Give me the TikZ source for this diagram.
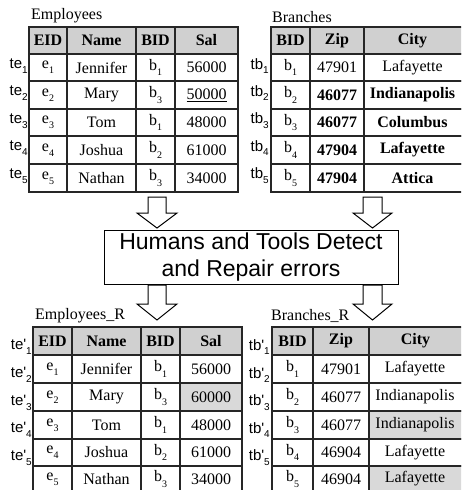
\documentclass[tikz,border=0pt]{standalone}
\usepackage{fontspec}
\setmainfont{Liberation Serif}
\newfontfamily\arialf{Liberation Sans}
\usetikzlibrary{calc}
\definecolor{hdrgray}{HTML}{D0D0D0}
\definecolor{shade}{HTML}{D9D9D9}
\newcommand\sbs[1]{\raisebox{-0.32em}{\fontsize{10}{10}\selectfont #1}}
\newcommand\mycell[7]{%
  \pgfmathsetmacro\cw{#4-#2}\pgfmathsetmacro\ch{#5-#3}%
  \node[cellbox,#6,minimum width=\cw pt,minimum height=\ch pt] (#1) at ({(#2+#4)/2},{(#3+#5)/2}) {#7};}
\tikzset{
  cellbox/.style={draw=black!85,line width=1.1pt,inner sep=0pt,font=\fontsize{16}{18}\selectfont},
  hdr/.style={fill=hdrgray,font=\fontsize{16}{18}\selectfont\bfseries},
  shd/.style={fill=shade},
  bld/.style={font=\fontsize{16}{18}\selectfont\bfseries},
  rowlab/.style={anchor=east,inner sep=0pt,font=\arialf\fontsize{15}{15}\selectfont},
  ttl/.style={anchor=south west,inner sep=0pt,font=\fontsize{16}{18}\selectfont},
  blockarrow/.style={draw=black,line width=1pt,fill=white,line join=miter}
}
\begin{document}
\begin{tikzpicture}[x=1pt,y=-1pt]
\clip (0,0) rectangle (461,490);
\fill[white] (0,0) rectangle (461,490);

% ---------- Employees ----------
\node[ttl] (tE) at (31,23) {Employees};
\mycell{E00}{29}{27}{67}{54}{hdr}{EID}
\mycell{E01}{67}{27}{136}{54}{hdr}{Name}
\mycell{E02}{136}{27}{175}{54}{hdr}{BID}
\mycell{E03}{175}{27}{238}{54}{hdr}{Sal}
\mycell{E10}{29}{54}{67}{81}{}{e\sbs{1}}
\mycell{E11}{67}{54}{136}{81}{}{Jennifer}
\mycell{E12}{136}{54}{175}{81}{}{b\sbs{1}}
\mycell{E13}{175}{54}{238}{81}{}{56000}
\mycell{E20}{29}{81}{67}{109}{}{e\sbs{2}}
\mycell{E21}{67}{81}{136}{109}{}{Mary}
\mycell{E22}{136}{81}{175}{109}{}{b\sbs{3}}
\mycell{E23}{175}{81}{238}{109}{}{\underline{50000}}
\mycell{E30}{29}{109}{67}{136}{}{e\sbs{3}}
\mycell{E31}{67}{109}{136}{136}{}{Tom}
\mycell{E32}{136}{109}{175}{136}{}{b\sbs{1}}
\mycell{E33}{175}{109}{238}{136}{}{48000}
\mycell{E40}{29}{136}{67}{164}{}{e\sbs{4}}
\mycell{E41}{67}{136}{136}{164}{}{Joshua}
\mycell{E42}{136}{136}{175}{164}{}{b\sbs{2}}
\mycell{E43}{175}{136}{238}{164}{}{61000}
\mycell{E50}{29}{164}{67}{192}{}{e\sbs{5}}
\mycell{E51}{67}{164}{136}{192}{}{Nathan}
\mycell{E52}{136}{164}{175}{192}{}{b\sbs{3}}
\mycell{E53}{175}{164}{238}{192}{}{34000}
\node[rowlab] (te1) at (28,66) {te\sbs{1}};
\node[rowlab] (te2) at (28,93) {te\sbs{2}};
\node[rowlab] (te3) at (28,121) {te\sbs{3}};
\node[rowlab] (te4) at (28,148) {te\sbs{4}};
\node[rowlab] (te5) at (28,176) {te\sbs{5}};

% ---------- Branches ----------
\node[ttl] (tB) at (272,23) {Branches};
\mycell{B00}{271}{27}{310}{54}{hdr}{BID}
\mycell{B01}{310}{27}{364}{54}{hdr}{Zip}
\mycell{B02}{364}{27}{470}{54}{hdr}{\hspace*{-9pt}City}
\mycell{B10}{271}{54}{310}{81}{}{b\sbs{1}}
\mycell{B11}{310}{54}{364}{81}{}{47901}
\mycell{B12}{364}{54}{470}{81}{}{\hspace*{-9pt}Lafayette}
\mycell{B20}{271}{81}{310}{109}{}{b\sbs{2}}
\mycell{B21}{310}{81}{364}{109}{bld}{46077}
\mycell{B22}{364}{81}{470}{109}{bld}{\hspace*{-9pt}Indianapolis}
\mycell{B30}{271}{109}{310}{136}{}{b\sbs{3}}
\mycell{B31}{310}{109}{364}{136}{bld}{46077}
\mycell{B32}{364}{109}{470}{136}{bld}{\hspace*{-9pt}Columbus}
\mycell{B40}{271}{136}{310}{164}{}{b\sbs{4}}
\mycell{B41}{310}{136}{364}{164}{bld}{47904}
\mycell{B42}{364}{136}{470}{164}{bld}{\hspace*{-9pt}Lafayette}
\mycell{B50}{271}{164}{310}{192}{}{b\sbs{5}}
\mycell{B51}{310}{164}{364}{192}{bld}{47904}
\mycell{B52}{364}{164}{470}{192}{bld}{\hspace*{-9pt}Attica}
\node[rowlab] (tb1) at (269,66) {tb\sbs{1}};
\node[rowlab] (tb2) at (269,93) {tb\sbs{2}};
\node[rowlab] (tb3) at (269,121) {tb\sbs{3}};
\node[rowlab] (tb4) at (269,148) {tb\sbs{4}};
\node[rowlab] (tb5) at (269,176) {tb\sbs{5}};

% ---------- middle box and arrows ----------
\draw[blockarrow] (148,197) -- (166,197) -- (166,213) -- (177,213) -- (157,228) -- (137,213) -- (148,213) -- cycle;
\draw[blockarrow] (363,197) -- (382,197) -- (382,213) -- (392,213) -- (372.5,228) -- (353,213) -- (363,213) -- cycle;
\node[draw=black,line width=1pt,minimum width=294pt,minimum height=54pt,inner sep=0pt,align=center,
      font=\arialf\fontsize{23}{27}\selectfont] (box) at (251,257) {Humans and Tools Detect\\and Repair errors};
\draw[blockarrow] (148,285) -- (166,285) -- (166,304) -- (177,304) -- (157,320) -- (137,304) -- (148,304) -- cycle;
\draw[blockarrow] (363,285) -- (382,285) -- (382,304) -- (392,304) -- (372.5,320) -- (353,304) -- (363,304) -- cycle;

% ---------- Employees_R ----------
\node[ttl] (tER) at (35,323) {Employees\_R};
\mycell{R00}{33}{327}{72}{355}{hdr}{EID}
\mycell{R01}{72}{327}{141}{355}{hdr}{Name}
\mycell{R02}{141}{327}{180}{355}{hdr}{BID}
\mycell{R03}{180}{327}{242}{355}{hdr}{Sal}
\mycell{R10}{33}{355}{72}{383}{}{e\sbs{1}}
\mycell{R11}{72}{355}{141}{383}{}{Jennifer}
\mycell{R12}{141}{355}{180}{383}{}{b\sbs{1}}
\mycell{R13}{180}{355}{242}{383}{}{56000}
\mycell{R20}{33}{383}{72}{411}{}{e\sbs{2}}
\mycell{R21}{72}{383}{141}{411}{}{Mary}
\mycell{R22}{141}{383}{180}{411}{}{b\sbs{3}}
\mycell{R23}{180}{383}{242}{411}{shd}{60000}
\mycell{R30}{33}{411}{72}{439}{}{e\sbs{3}}
\mycell{R31}{72}{411}{141}{439}{}{Tom}
\mycell{R32}{141}{411}{180}{439}{}{b\sbs{1}}
\mycell{R33}{180}{411}{242}{439}{}{48000}
\mycell{R40}{33}{439}{72}{466}{}{e\sbs{4}}
\mycell{R41}{72}{439}{141}{466}{}{Joshua}
\mycell{R42}{141}{439}{180}{466}{}{b\sbs{2}}
\mycell{R43}{180}{439}{242}{466}{}{61000}
\mycell{R50}{33}{466}{72}{492}{}{e\sbs{5}}
\mycell{R51}{72}{466}{141}{492}{}{Nathan}
\mycell{R52}{141}{466}{180}{492}{}{b\sbs{3}}
\mycell{R53}{180}{466}{242}{492}{}{34000}
\node[rowlab] (tr1) at (32,347) {te'\sbs{1}};
\node[rowlab] (tr2) at (32,375) {te'\sbs{2}};
\node[rowlab] (tr3) at (32,403) {te'\sbs{3}};
\node[rowlab] (tr4) at (32,430) {te'\sbs{4}};
\node[rowlab] (tr5) at (32,458) {te'\sbs{5}};

% ---------- Branches_R ----------
\node[ttl] (tBR) at (271,323) {Branches\_R};
\mycell{S00}{272}{327}{313}{355}{hdr}{BID}
\mycell{S01}{313}{327}{369}{355}{hdr}{Zip}
\mycell{S02}{369}{327}{470}{355}{hdr}{\hspace*{-8pt}City}
\mycell{S10}{272}{355}{313}{383}{}{b\sbs{1}}
\mycell{S11}{313}{355}{369}{383}{}{47901}
\mycell{S12}{369}{355}{470}{383}{}{\hspace*{-9pt}Lafayette}
\mycell{S20}{272}{383}{313}{411}{}{b\sbs{2}}
\mycell{S21}{313}{383}{369}{411}{}{46077}
\mycell{S22}{369}{383}{470}{411}{}{\hspace*{-9pt}Indianapolis}
\mycell{S30}{272}{411}{313}{439}{}{b\sbs{3}}
\mycell{S31}{313}{411}{369}{439}{}{46077}
\mycell{S32}{369}{411}{470}{439}{shd}{\hspace*{-9pt}Indianapolis}
\mycell{S40}{272}{439}{313}{466}{}{b\sbs{4}}
\mycell{S41}{313}{439}{369}{466}{}{46904}
\mycell{S42}{369}{439}{470}{466}{}{\hspace*{-9pt}Lafayette}
\mycell{S50}{272}{466}{313}{492}{}{b\sbs{5}}
\mycell{S51}{313}{466}{369}{492}{}{46904}
\mycell{S52}{369}{466}{470}{492}{shd}{\hspace*{-9pt}Lafayette}
\node[rowlab] (ts1) at (270,347) {tb'\sbs{1}};
\node[rowlab] (ts2) at (270,375) {tb'\sbs{2}};
\node[rowlab] (ts3) at (270,403) {tb'\sbs{3}};
\node[rowlab] (ts4) at (270,430) {tb'\sbs{4}};
\node[rowlab] (ts5) at (270,458) {tb'\sbs{5}};
\end{tikzpicture}
\end{document}
